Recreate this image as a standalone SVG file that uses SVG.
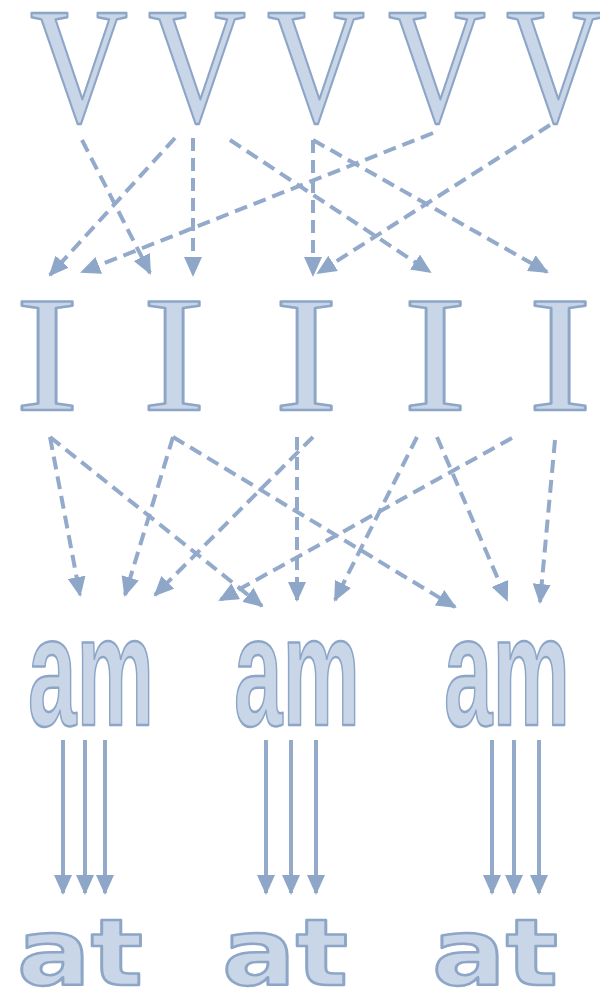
<svg xmlns="http://www.w3.org/2000/svg" width="600" height="994" viewBox="0 0 600 994">
<style>
.lt{fill:#c9d6e7;stroke:#8da6c8;stroke-width:2.5;stroke-linejoin:round}
.serif{font-family:"Liberation Serif","Times New Roman",serif}
.sans{font-family:"Liberation Sans",Arial,sans-serif;font-weight:bold}
.bold{font-family:"DejaVu Sans",Verdana,sans-serif;font-weight:bold}
.d{fill:none;stroke:#93aacb;stroke-width:4;stroke-dasharray:13 7;marker-end:url(#ah)}
.s{fill:none;stroke:#93aacb;stroke-width:4;marker-end:url(#ah)}
</style>
<defs>
<marker id="ah" viewBox="0 0 20 18" refX="18" refY="9" markerWidth="20" markerHeight="18" orient="auto" markerUnits="userSpaceOnUse">
<path d="M0,0 L20,9 L0,18 z" fill="#8ea7c8"/>
</marker>
</defs>
<rect width="600" height="994" fill="#fff"/>
<g id="V1"><text class="lt serif" font-size="166" x="30" y="122" textLength="98" lengthAdjust="spacingAndGlyphs">V</text></g>
<g id="V2"><text class="lt serif" font-size="166" x="148" y="122" textLength="98" lengthAdjust="spacingAndGlyphs">V</text></g>
<g id="V3"><text class="lt serif" font-size="166" x="267" y="122" textLength="98" lengthAdjust="spacingAndGlyphs">V</text></g>
<g id="V4"><text class="lt serif" font-size="166" x="388" y="122" textLength="98" lengthAdjust="spacingAndGlyphs">V</text></g>
<g id="V5"><text class="lt serif" font-size="166" x="506" y="122" textLength="98" lengthAdjust="spacingAndGlyphs">V</text></g>
<g id="I1"><text class="lt serif" font-size="166" x="15" y="410" textLength="64" lengthAdjust="spacingAndGlyphs">I</text></g>
<g id="I2"><text class="lt serif" font-size="166" x="142" y="410" textLength="64" lengthAdjust="spacingAndGlyphs">I</text></g>
<g id="I3"><text class="lt serif" font-size="166" x="274" y="410" textLength="64" lengthAdjust="spacingAndGlyphs">I</text></g>
<g id="I4"><text class="lt serif" font-size="166" x="403" y="410" textLength="64" lengthAdjust="spacingAndGlyphs">I</text></g>
<g id="I5"><text class="lt serif" font-size="166" x="528" y="410" textLength="64" lengthAdjust="spacingAndGlyphs">I</text></g>
<g id="am1"><text class="lt sans" font-size="155" x="28" y="725" textLength="126" lengthAdjust="spacingAndGlyphs">am</text></g>
<g id="am2"><text class="lt sans" font-size="155" x="234" y="725" textLength="126" lengthAdjust="spacingAndGlyphs">am</text></g>
<g id="am3"><text class="lt sans" font-size="155" x="444" y="725" textLength="126" lengthAdjust="spacingAndGlyphs">am</text></g>
<g id="at1"><text class="lt bold" font-size="92" x="17" y="985" textLength="126" lengthAdjust="spacingAndGlyphs">at</text></g>
<g id="at2"><text class="lt bold" font-size="92" x="222" y="985" textLength="126" lengthAdjust="spacingAndGlyphs">at</text></g>
<g id="at3"><text class="lt bold" font-size="92" x="432" y="985" textLength="126" lengthAdjust="spacingAndGlyphs">at</text></g>
<g id="connectors">
<path class="d" d="M82,140 L150,273"/>
<path class="d" d="M175,138 L50,275"/>
<path class="d" d="M193,138 L193,275"/>
<path class="d" d="M230,140 L430,272"/>
<path class="d" d="M313,140 L313,275"/>
<path class="d" d="M313,140 L547,272"/>
<path class="d" d="M433,133 L82,272"/>
<path class="d" d="M550,125 L318,273"/>
<path class="d" d="M50,437 L80,595"/>
<path class="d" d="M50,437 L262,606"/>
<path class="d" d="M173,437 L125,595"/>
<path class="d" d="M173,437 L455,607"/>
<path class="d" d="M297,437 L297,600"/>
<path class="d" d="M313,437 L155,595"/>
<path class="d" d="M417,437 L335,600"/>
<path class="d" d="M437,437 L507,600"/>
<path class="d" d="M512,438 L220,600"/>
<path class="d" d="M555,440 L540,602"/>
<path class="s" d="M63,740 L63,893"/>
<path class="s" d="M85,740 L85,893"/>
<path class="s" d="M105,740 L105,893"/>
<path class="s" d="M266,740 L266,893"/>
<path class="s" d="M291,740 L291,893"/>
<path class="s" d="M316,740 L316,893"/>
<path class="s" d="M492,740 L492,893"/>
<path class="s" d="M514,740 L514,893"/>
<path class="s" d="M539,740 L539,893"/>
</g>
</svg>
